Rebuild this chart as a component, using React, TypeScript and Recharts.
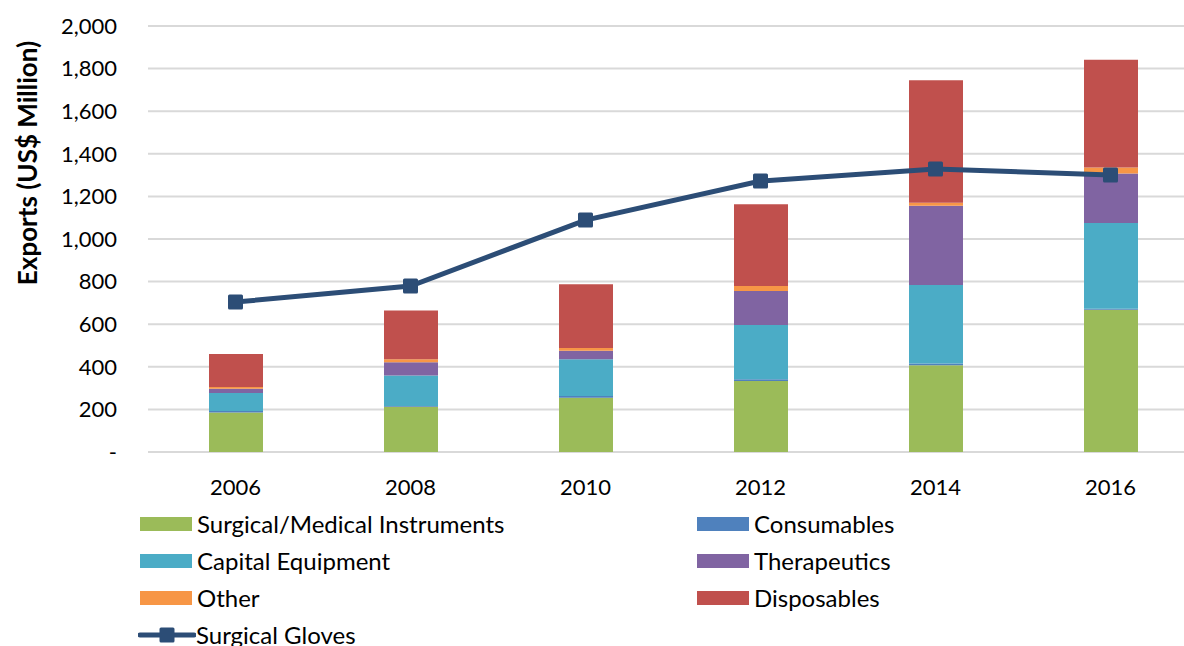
import {
  Bar,
  CartesianGrid,
  ComposedChart,
  Legend,
  Line,
  XAxis,
  YAxis,
} from "recharts";

const years = ["2006", "2008", "2010", "2012", "2014", "2016"];

const instruments = [185, 213, 255, 333, 407, 668];
const consumables = [7, 3, 8, 9, 9, 5];
const capital = [85, 143, 172, 254, 368, 402];
const therapeutics = [20, 62, 40, 160, 372, 233];
const other = [8, 14, 13, 23, 14, 28];
const disposables = [155, 229, 300, 384, 575, 505];
const gloves = [704, 779, 1089, 1272, 1329, 1300];

const yTicks = [0, 200, 400, 600, 800, 1000, 1200, 1400, 1600, 1800, 2000];

const FONT = "Lato, 'Open Sans', sans-serif";

const stackSeries = [
  { key: "instruments", name: "Surgical/Medical Instruments", color: "#9bbb59" },
  { key: "consumables", name: "Consumables", color: "#4f81bd" },
  { key: "capital", name: "Capital Equipment", color: "#4bacc6" },
  { key: "therapeutics", name: "Therapeutics", color: "#8064a2" },
  { key: "other", name: "Other", color: "#f79646" },
  { key: "disposables", name: "Disposables", color: "#c0504d" },
];

const lineColor = "#2c4d76";

const data = years.map((year, i) => ({
  year,
  instruments: instruments[i],
  consumables: consumables[i],
  capital: capital[i],
  therapeutics: therapeutics[i],
  other: other[i],
  disposables: disposables[i],
  gloves: gloves[i],
}));

function SquareDot(props: { cx?: number; cy?: number; index?: number }) {
  const { cx, cy, index } = props;
  if (cx == null || cy == null) return null;
  return (
    <rect
      key={`dot-${index}`}
      x={cx - 7.5}
      y={cy - 7.5}
      width={15}
      height={15}
      rx={1.5}
      fill={lineColor}
    />
  );
}

function ChartLegend() {
  const rowH = 37;
  const cell = (s: { name: string; color: string }) => (
    <div
      key={s.name}
      style={{ display: "flex", alignItems: "center", height: rowH }}
    >
      <span
        style={{
          display: "inline-block",
          width: 52,
          height: 14,
          background: s.color,
          marginRight: 5,
        }}
      />
      <span>{s.name}</span>
    </div>
  );
  return (
    <div
      style={{
        fontFamily: FONT,
        fontSize: 24,
        color: "#000",
        display: "grid",
        gridTemplateColumns: "557px 400px",
        lineHeight: 1,
      }}
    >
      {stackSeries.map((s) => cell(s))}
      <div style={{ display: "flex", alignItems: "center", height: rowH }}>
        <svg width={58} height={16} style={{ marginLeft: -2 }}>
          <line x1={2} y1={8} x2={56} y2={8} stroke={lineColor} strokeWidth={5} strokeLinecap="round" />
          <rect x={21.5} y={0.5} width={15} height={15} rx={1.5} fill={lineColor} />
        </svg>
        <span>Surgical Gloves</span>
      </div>
    </div>
  );
}

export default function App() {
  return (
    <div
      style={{
        position: "absolute",
        top: 0,
        left: 0,
        width: 1184,
        height: 646,
        overflow: "hidden",
        background: "#fff",
      }}
    >
      <ComposedChart
        width={1200}
        height={646}
        data={data}
        margin={{ top: 26, right: 2, left: 0, bottom: 154 }}
      >
        <CartesianGrid vertical={false} stroke="#d9d9d9" strokeWidth={2} />
        <XAxis
          dataKey="year"
          axisLine={false}
          tickLine={false}
          tickSize={0}
          tickMargin={27}
          height={40}
          tick={{ fill: "#000", fontSize: 22, fontFamily: FONT }}
        />
        <YAxis
          width={148}
          domain={[0, 2000]}
          ticks={yTicks}
          axisLine={false}
          tickLine={false}
          tickSize={0}
          tickMargin={31}
          interval={0}
          tickFormatter={(v: number) => (v === 0 ? "-" : v.toLocaleString("en-US"))}
          tick={{ fill: "#000", fontSize: 22, fontFamily: FONT }}
          label={{
            content: () => (
              <text
                x={27}
                y={163}
                transform="rotate(-90 27 163)"
                textAnchor="middle"
                dominantBaseline="central"
                fontFamily={FONT}
                fontSize={26}
                fontWeight={700}
                fill="#000"
              >
                Exports (US$ Million)
              </text>
            ),
          }}
        />
        {stackSeries.map((s) => (
          <Bar
            key={s.key}
            dataKey={s.key}
            name={s.name}
            stackId="exports"
            fill={s.color}
            barSize={54}
            isAnimationActive={false}
          />
        ))}
        <Line
          dataKey="gloves"
          name="Surgical Gloves"
          stroke={lineColor}
          strokeWidth={5}
          dot={<SquareDot />}
          activeDot={false}
          isAnimationActive={false}
        />
        <Legend
          layout="vertical"
          align="center"
          verticalAlign="middle"
          wrapperStyle={{ top: 505, left: 140, width: 1000 }}
          content={() => <ChartLegend />}
        />
      </ComposedChart>
    </div>
  );
}
